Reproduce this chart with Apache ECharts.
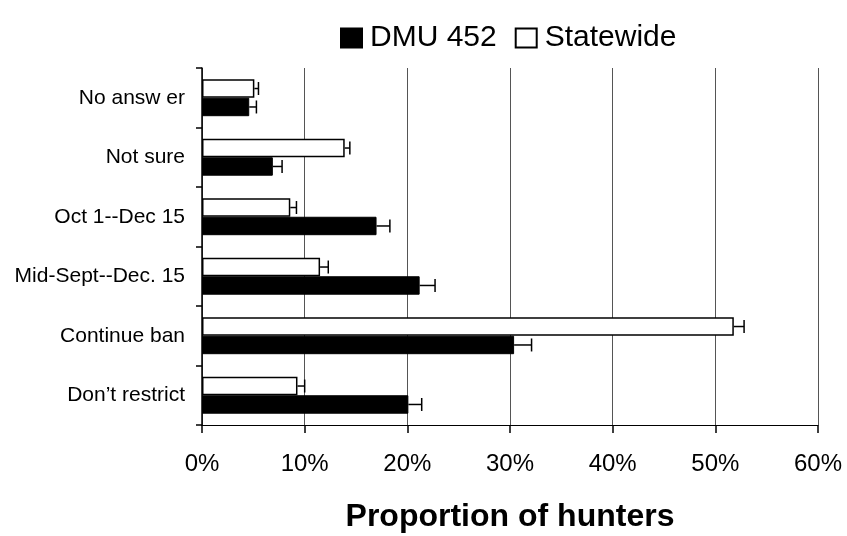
<!DOCTYPE html>
<html>
<head>
<meta charset="utf-8">
<script src="https://cdn.jsdelivr.net/npm/echarts@6/dist/echarts.min.js"></script>
<style>html,body{margin:0;padding:0;background:#fff;}#c{width:847px;height:536px;}</style>
</head>
<body>
<div id="c"></div>
<script>
// Categories, bottom to top
const categories = ["Don\u2019t restrict", "Continue ban", "Mid-Sept--Dec. 15", "Oct 1--Dec 15", "Not sure", "No answ er"];
// Percent of hunters
const dmuValues = [20.1, 30.4, 21.2, 17.0, 6.9, 4.6];
const dmuErrors = [1.3, 1.7, 1.5, 1.3, 0.9, 0.7];
const stateValues = [9.3, 51.8, 11.5, 8.6, 13.9, 5.1];
const stateErrors = [0.7, 1.0, 0.8, 0.6, 0.5, 0.4];
const xTicks = [0, 10, 20, 30, 40, 50, 60];

const FONT = "'Liberation Sans', Arial, sans-serif";
const chart = echarts.init(document.getElementById('c'), null, {renderer: 'canvas'});

function errSeries(name, values, errors, frac) {
  return {
    type: 'custom',
    name: name,
    z: 5,
    silent: true,
    data: values.map((v, i) => [v, i, errors[i]]),
    encode: {x: 0, y: 1},
    renderItem: function (params, api) {
      const v = api.value(0), c = api.value(1), e = api.value(2);
      const band = api.size([0, 1])[1];
      const p0 = api.coord([v, c]);
      const p1 = api.coord([v + e, c]);
      const y = p0[1] + frac * band;
      const cap = 13;
      return {
        type: 'group',
        children: [
          {type: 'line', shape: {x1: p0[0], y1: y, x2: p1[0], y2: y}, style: {stroke: '#000', lineWidth: 1.5}},
          {type: 'line', shape: {x1: p1[0], y1: y - cap / 2, x2: p1[0], y2: y + cap / 2}, style: {stroke: '#000', lineWidth: 1.5}}
        ]
      };
    }
  };
}

chart.setOption({
  animation: false,
  backgroundColor: '#fff',
  textStyle: {fontFamily: FONT, color: '#000'},
  legend: {
    data: ['DMU 452', 'Statewide'],
    left: 335,
    top: 18,
    itemWidth: 21,
    itemHeight: 19,
    itemGap: 18,
    icon: 'rect',
    textStyle: {fontFamily: FONT, fontSize: 30, color: '#000', padding: [0, 0, 4, 3]}
  },
  grid: {left: 202, right: 29, top: 68, bottom: 111, containLabel: false, outerBoundsMode: 'none'},
  xAxis: {
    type: 'value',
    min: xTicks[0],
    max: xTicks[xTicks.length - 1],
    interval: 10,
    name: 'Proportion of hunters',
    nameLocation: 'middle',
    nameGap: 76,
    nameTextStyle: {fontFamily: FONT, fontSize: 32, fontWeight: 'bold', color: '#000'},
    axisLine: {show: true, lineStyle: {color: '#000', width: 1}},
    axisTick: {show: true, length: 8, lineStyle: {color: '#000', width: 1.5}},
    axisLabel: {fontFamily: FONT, fontSize: 24, color: '#000', margin: 27, formatter: '{value}%'},
    splitLine: {show: true, lineStyle: {color: '#555', width: 1}}
  },
  yAxis: {
    type: 'category',
    data: categories,
    axisLine: {show: true, lineStyle: {color: '#000', width: 1.5}},
    axisTick: {show: true, length: 6, lineStyle: {color: '#000', width: 1.5}},
    axisLabel: {fontFamily: FONT, fontSize: 21, color: '#000', margin: 17},
    splitLine: {show: false}
  },
  series: [
    {
      name: 'Statewide',
      type: 'bar',
      data: stateValues,
      barWidth: '31%',
      barGap: '0%',
      itemStyle: {color: '#fff', borderColor: '#000', borderWidth: 1.5}
    },
    {
      name: 'DMU 452',
      type: 'bar',
      data: dmuValues,
      barWidth: '31%',
      barGap: '0%',
      itemStyle: {color: '#000', borderColor: '#000', borderWidth: 1}
    },
    errSeries('errState', stateValues, stateErrors, -0.155),
    errSeries('errDmu', dmuValues, dmuErrors, 0.155)
  ]
});
</script>
</body>
</html>
